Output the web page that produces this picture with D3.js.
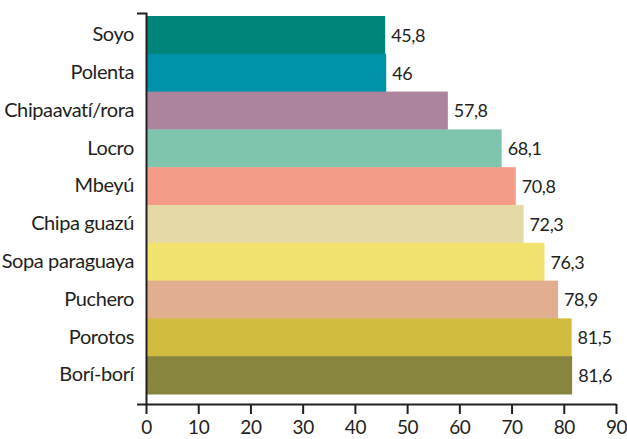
<!DOCTYPE html>
<html>
<head>
<meta charset="utf-8">
<script src="https://cdn.jsdelivr.net/npm/d3@7"></script>
<style>
  body { margin: 0; background: #fff; }
  svg { display: block; font-family: Lato, "Open Sans", sans-serif; }
</style>
</head>
<body>
<svg id="chart" width="627" height="439"></svg>
<script>
// data
const categories = ["Soyo", "Polenta", "Chipaavatí/rora", "Locro", "Mbeyú", "Chipa guazú", "Sopa paraguaya", "Puchero", "Porotos", "Borí-borí"];
const values = [45.8, 46, 57.8, 68.1, 70.8, 72.3, 76.3, 78.9, 81.5, 81.6];
const valueLabels = ["45,8", "46", "57,8", "68,1", "70,8", "72,3", "76,3", "78,9", "81,5", "81,6"];
const barColors = ["#00857a", "#0092a8", "#ad849e", "#7fc4ac", "#f49c88", "#e5d9a6", "#f2e26e", "#e2ae90", "#d2bc40", "#88853e"];
const xTicks = [0, 10, 20, 30, 40, 50, 60, 70, 80, 90];

const ink = "#231f20";
const svg = d3.select("#chart");

const x = d3.scaleLinear().domain([0, 90]).range([146, 616]);
const y = d3.scaleBand()
  .domain(categories)
  .range([13, 404])
  .paddingInner(0)
  .paddingOuter(0.172)
  .align(0.23);

// bars
svg.append("g")
  .selectAll("rect")
  .data(categories)
  .join("rect")
  .attr("x", x(0))
  .attr("y", d => y(d))
  .attr("width", (d, i) => x(values[i]) - x(0))
  .attr("height", y.bandwidth() + 0.5)
  .attr("fill", (d, i) => barColors[i]);

// value labels
svg.append("g")
  .selectAll("text")
  .data(categories)
  .join("text")
  .attr("x", (d, i) => x(values[i]) + 6)
  .attr("y", d => y(d) + y.bandwidth() / 2)
  .attr("dy", "0.38em")
  .attr("fill", ink)
  .attr("font-size", 18)
  .attr("letter-spacing", -0.4)
  .text((d, i) => valueLabels[i]);

// y axis
const yAxis = svg.append("g")
  .attr("transform", `translate(${x(0)},0)`)
  .call(d3.axisLeft(y).tickSize(0).tickSizeOuter(9).tickPadding(12))
  .attr("font-family", null);
yAxis.select(".domain").attr("stroke", ink).attr("stroke-width", 2);
yAxis.selectAll("text")
  .attr("font-size", 20)
  .attr("letter-spacing", -0.4)
  .attr("fill", ink);

// x axis
const xAxis = svg.append("g")
  .attr("transform", "translate(0,404)")
  .call(d3.axisBottom(x).tickValues(xTicks).tickSize(10).tickSizeOuter(0).tickPadding(7))
  .attr("font-family", null);
xAxis.select(".domain").attr("stroke", ink).attr("stroke-width", 2);
xAxis.selectAll(".tick line").attr("stroke", ink).attr("stroke-width", 2);
xAxis.selectAll("text")
  .attr("font-size", 19)
  .attr("letter-spacing", -0.4)
  .attr("fill", ink);
</script>
</body>
</html>
